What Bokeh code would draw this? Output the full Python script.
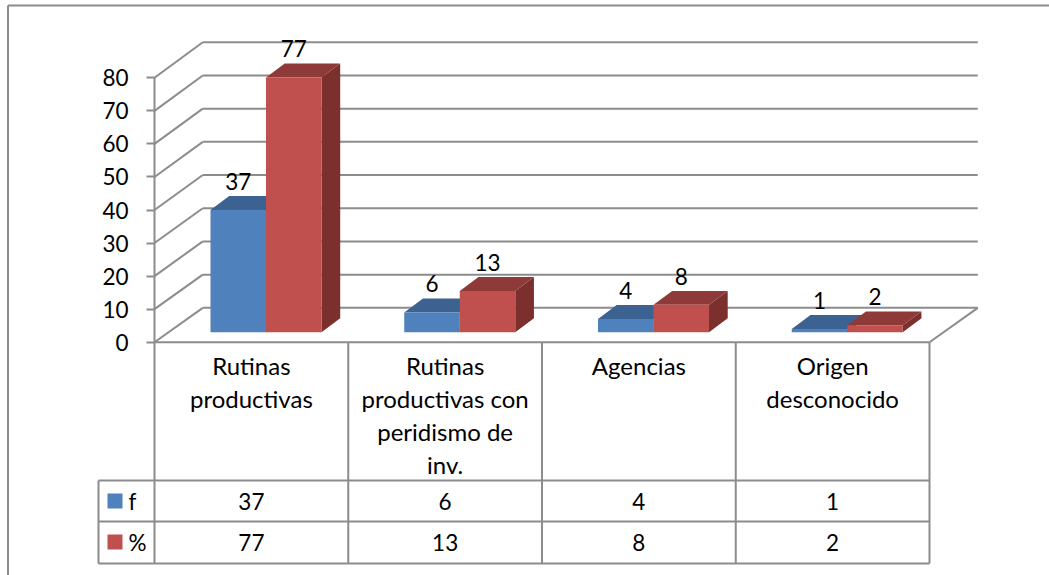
from bokeh.embed import file_html
from bokeh.resources import INLINE
from bokeh.plotting import figure
from bokeh.models import Range1d, LinearAxis, FixedTicker
from bokeh.core.properties import value

# ---- data ----
categories = ["Rutinas\nproductivas", "Rutinas\nproductivas con\nperidismo de\ninv.", "Agencias", "Origen\ndesconocido"]
series_names = ["f", "%"]
f_values = [37, 6, 4, 1]
pct_values = [77.1, 12.5, 8.3, 2.1]
f_labels = ["37", "6", "4", "1"]
pct_labels = ["77", "13", "8", "2"]
y_ticks = [0, 10, 20, 30, 40, 50, 60, 70, 80]

# ---- colours / font ----
BLUE, BLUE_TOP, BLUE_SIDE = "#4F81BD", "#3B6290", "#2F4F76"
RED, RED_TOP, RED_SIDE = "#C0504D", "#8E3A38", "#7C302E"
GREY = "#8C8C8C"
FONT = value("Lato")
FS_NUM = "22.5px"
FS_TXT = "24px"

# ---- layout: scale of the drawing ----
W, H = 1049, 575
X0, Y0 = 154.0, 341.7       # pixel of category 0 / value 0
PX_CAT, PX_VAL = 193.75, 3.305

def xu(px):
    return (px - X0) / PX_CAT

def yv(px):
    return (Y0 - px) / PX_VAL

DEPTH_X = xu(X0 + 48.3)                    # wall depth
DEPTH_Y, BACK_SCALE = 10.4, 1.0045         # back wall position and stretch
BAR_DX, BAR_DY = xu(X0 + 18.7), 4.2        # bar depth
BAR_X0, BAR_W, BAR_Y0 = 0.289, 0.2865, 3.02

n = len(categories)

p = figure(width=W, height=H, output_backend="svg", toolbar_location=None,
           x_range=Range1d(xu(0), xu(W)), y_range=Range1d(yv(H), yv(0)),
           min_border=0, min_border_left=0, min_border_right=0, min_border_top=0, min_border_bottom=0,
           x_axis_location=None, y_axis_location=None)
p.xgrid.visible = False
p.ygrid.visible = False
p.outline_line_color = None
p.background_fill_color = "white"
p.border_fill_color = "white"

LW = 2
line = dict(line_color=GREY, line_width=LW)

# outer chart border (only top and left are in frame)
p.segment([xu(7.5), xu(7.5)], [yv(5), yv(5)], [xu(W), xu(7.5)], [yv(5), yv(H)], **line)

# walls: gridlines on the back and slanted lines on the side wall
back = [t * BACK_SCALE + DEPTH_Y for t in y_ticks]
p.segment([DEPTH_X] * len(y_ticks), back, [n + DEPTH_X] * len(y_ticks), back, **line)
p.segment([0] * len(y_ticks), y_ticks, [DEPTH_X] * len(y_ticks), back, **line)
# floor right edge
p.segment([n], [0], [n + DEPTH_X], [DEPTH_Y], **line)

# value axis
axis = LinearAxis(ticker=FixedTicker(ticks=y_ticks), bounds=(0, 80))
axis.fixed_location = 0
axis.axis_line_color = GREY
axis.axis_line_width = LW
axis.major_tick_line_color = GREY
axis.major_tick_line_width = LW
axis.major_tick_out = 8
axis.major_tick_in = 0
axis.minor_tick_line_color = None
axis.major_label_standoff = 18
axis.major_label_text_font = "Lato"
axis.major_label_text_font_size = FS_NUM
axis.major_label_text_color = "black"
p.add_layout(axis, "left")

# bars
def bar(vals, off, front, top, side):
    lefts = [i + BAR_X0 + off * BAR_W for i in range(n)]
    rights = [l + BAR_W for l in lefts]
    tops = [BAR_Y0 + v for v in vals]
    p.patches([[r, r + BAR_DX, r + BAR_DX, r] for r in rights],
              [[BAR_Y0, BAR_Y0 + BAR_DY, t + BAR_DY, t] for t in tops],
              fill_color=side, line_color=None)
    p.patches([[l, l + BAR_DX, r + BAR_DX, r] for l, r in zip(lefts, rights)],
              [[t, t + BAR_DY, t + BAR_DY, t] for t in tops],
              fill_color=top, line_color=None)
    p.quad(left=lefts, right=rights, bottom=[BAR_Y0] * n, top=tops, fill_color=front, line_color=None)
    return [l + BAR_W / 2 for l in lefts], tops

fx, ft = bar(f_values, 0, BLUE, BLUE_TOP, BLUE_SIDE)
px, pt = bar(pct_values, 1, RED, RED_TOP, RED_SIDE)

# data labels
num = dict(text_font=FONT, text_font_size=FS_NUM, text_color="black")
word = dict(text_font=FONT, text_font_size=FS_TXT, text_color="black")
p.text(fx, ft, text=f_labels, text_align="center", text_baseline="alphabetic", y_offset=-28.5, **num)
p.text(px, pt, text=pct_labels, text_align="center", text_baseline="alphabetic", y_offset=-28.5, **num)

# data table
ROW_TOP, ROW_1, ROW_2 = yv(480), yv(521), yv(563)
LEG_X = xu(98)
p.segment(list(range(n + 1)), [0] * (n + 1), list(range(n + 1)), [ROW_2] * (n + 1), **line)
p.segment([0, LEG_X, LEG_X, LEG_X], [0, ROW_TOP, ROW_1, ROW_2],
          [n, n, n, n], [0, ROW_TOP, ROW_1, ROW_2], **line)
p.segment([LEG_X], [ROW_TOP], [LEG_X], [ROW_2], **line)

centers = [i + 0.5 for i in range(n)]
p.text(centers, [yv(350.5)] * n, text=categories, text_align="center", text_baseline="top",
       text_line_height=1.135, **word)
p.text(centers, [(ROW_TOP + ROW_1) / 2] * n, text=f_labels, text_align="center", text_baseline="middle", **num)
p.text(centers, [(ROW_1 + ROW_2) / 2] * n, text=pct_labels, text_align="center", text_baseline="middle", **num)

# legend keys inside the table
p.quad(left=[xu(107), xu(107)], right=[xu(122), xu(122)],
       bottom=[yv(508), yv(549)], top=[yv(493), yv(534)],
       fill_color=[BLUE, RED], line_color=None)
p.text([xu(128), xu(128)], [(ROW_TOP + ROW_1) / 2, (ROW_1 + ROW_2) / 2], text=series_names,
       text_align="left", text_baseline="middle", **num)

open("out.html", "w").write(file_html(p, INLINE))
